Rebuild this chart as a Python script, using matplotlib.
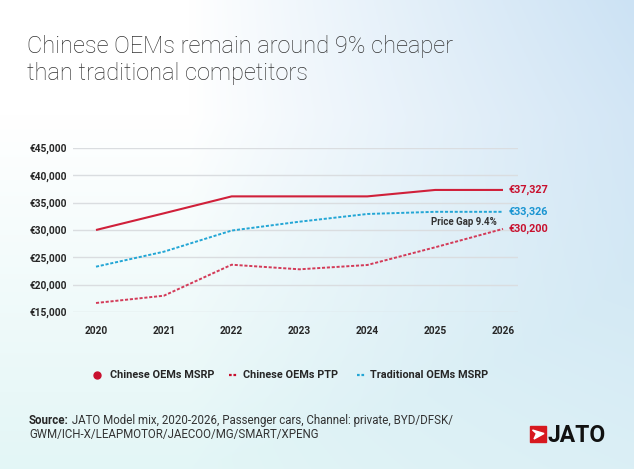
import numpy as np
import matplotlib
matplotlib.use("Agg")
import matplotlib.pyplot as plt
from matplotlib.lines import Line2D
from matplotlib.patches import Rectangle, Polygon

years = [2020, 2021, 2022, 2023, 2024, 2025, 2026]
cn_msrp = [30000, 33050, 36150, 36150, 36150, 37327, 37327]
cn_ptp = [16650, 17980, 23650, 22810, 23600, 26840, 30200]
trad_msrp = [23290, 26030, 29900, 31520, 32930, 33326, 33326]
y_ticks = [15000, 20000, 25000, 30000, 35000, 40000, 45000]

RED = "#d0203a"
PTP_RED = "#d33a58"
BLUE = "#23a6d5"
DARK = "#262626"

plt.rcParams["font.family"] = ["Roboto", "DejaVu Sans"]

W, H = 634, 469
fig = plt.figure(figsize=(W / 100, H / 100), dpi=100)

# background gradient
bg = fig.add_axes([0, 0, 1, 1])
xx, yy = np.meshgrid(np.linspace(0, 1, 300), np.linspace(0, 1, 220))
white = np.array([1.0, 1.0, 1.0])
blue = np.array([0.80, 0.887, 0.957])
mint = np.array([0.89, 0.965, 0.965])
wb = np.clip((xx - 0.3) / 0.7, 0, 1) ** 0.9 * (1 - 0.55 * yy)
wm = np.clip((yy - 0.25) / 0.75, 0, 1) * (1 - 0.4 * wb)
ww = np.clip(1 - wb - wm, 0, 1)
tot = wb + wm + ww
img = (ww[..., None] * white + wb[..., None] * blue + wm[..., None] * mint) / tot[..., None]
bg.imshow(img, extent=[0, 1, 0, 1], aspect="auto", origin="upper")
bg.set_axis_off()

# main chart
ax = fig.add_axes([73 / W, 1 - 312 / H, 445 / W, 164 / H])
ax.patch.set_alpha(0)
ax.plot(years, cn_msrp, color=RED, lw=1.5, solid_capstyle="butt")
ax.plot(years, cn_ptp, color=PTP_RED, lw=1.4, ls=(0, (1.6, 0.9)))
ax.plot(years, trad_msrp, color=BLUE, lw=1.4, ls=(0, (1.6, 0.9)))
ax.set_xlim(2020 - 23 / 67.83, 2026 + 15 / 67.83)
ax.set_ylim(15000, 45000)
ax.set_yticks(y_ticks)
ax.set_yticklabels(["€{:,}".format(v) for v in y_ticks])
ax.set_xticks(years)
ax.grid(axis="y", color="#dadde0", lw=1)
ax.set_axisbelow(True)
for s in ax.spines.values():
    s.set_visible(False)
ax.tick_params(length=0, labelsize=7.3, labelcolor=DARK)
ax.tick_params(axis="y", pad=4.5)
ax.tick_params(axis="x", pad=10)
for lab in ax.get_xticklabels() + ax.get_yticklabels():
    lab.set_fontweight("bold")

# end labels
for vals, col in [(cn_msrp, "#c8102e"), (trad_msrp, "#1a95d2"), (cn_ptp, "#c8102e")]:
    ax.annotate("€{:,}".format(vals[-1]), xy=(years[-1], vals[-1]), xytext=(4, 0),
                textcoords="offset points", va="center", ha="left",
                fontsize=7.8, fontweight="bold", color=col)
ax.annotate("Price Gap 9.4%", xy=(years[-1], (trad_msrp[-1] + cn_ptp[-1]) / 2),
            xytext=(-4.5, -1), textcoords="offset points", ha="right", va="center",
            fontsize=7.0, fontweight="bold", color="#333333")

# title
fig.text(27 / W, 1 - 52.5 / H, "Chinese OEMs remain around 9% cheaper",
         fontsize=17, fontweight="light", color="#333333", va="baseline")
fig.text(27 / W, 1 - 80 / H, "than traditional competitors",
         fontsize=17, fontweight="light", color="#333333", va="baseline")

# legend
ly = 1 - 375 / H
fig.add_artist(Line2D([97 / W], [ly], marker="o", ms=5, color="#c8102e", lw=0))
fig.add_artist(Line2D([229 / W, 237 / W], [ly, ly], color="#c8102e", lw=1.6, ls=(0, (1.2, 0.8))))
fig.add_artist(Line2D([357 / W, 365 / W], [ly, ly], color=BLUE, lw=1.6, ls=(0, (1.2, 0.8))))
for x, txt in [(110, "Chinese OEMs MSRP"), (243, "Chinese OEMs PTP"), (370, "Traditional OEMs MSRP")]:
    fig.text(x / W, ly, txt, fontsize=7.8, fontweight="bold", color=DARK, va="center")

# source
t1 = fig.text(29 / W, 1 - 424 / H, "Source:", fontsize=8.3, fontweight="bold",
              color=DARK, va="baseline")
fig.add_artist(plt.Annotation(" JATO Model mix, 2020-2026, Passenger cars, Channel: private, BYD/DFSK/",
                              xy=(1, 0), xycoords=t1, va="bottom", ha="left",
                              fontsize=8.3, color="#333333", annotation_clip=False))
fig.text(29 / W, 1 - 438 / H, "GWM/ICH-X/LEAPMOTOR/JAECOO/MG/SMART/XPENG",
         fontsize=8.3, color="#333333", va="baseline")

# logo
fig.add_artist(Rectangle((530 / W, 1 - 442 / H), 16 / W, 16 / H, color="#d7191f",
                         transform=fig.transFigure))
fig.add_artist(Polygon([[532.5 / W, 1 - 430 / H], [544 / W, 1 - 433.5 / H],
                        [534 / W, 1 - 439 / H], [536.5 / W, 1 - 433.5 / H]],
                       closed=True, color="white", transform=fig.transFigure))
fig.text(547.5 / W, 1 - 442 / H, "JATO", fontsize=16.5, fontweight="bold",
         color="#111111", va="baseline")

fig.savefig("out.png", dpi=100)
